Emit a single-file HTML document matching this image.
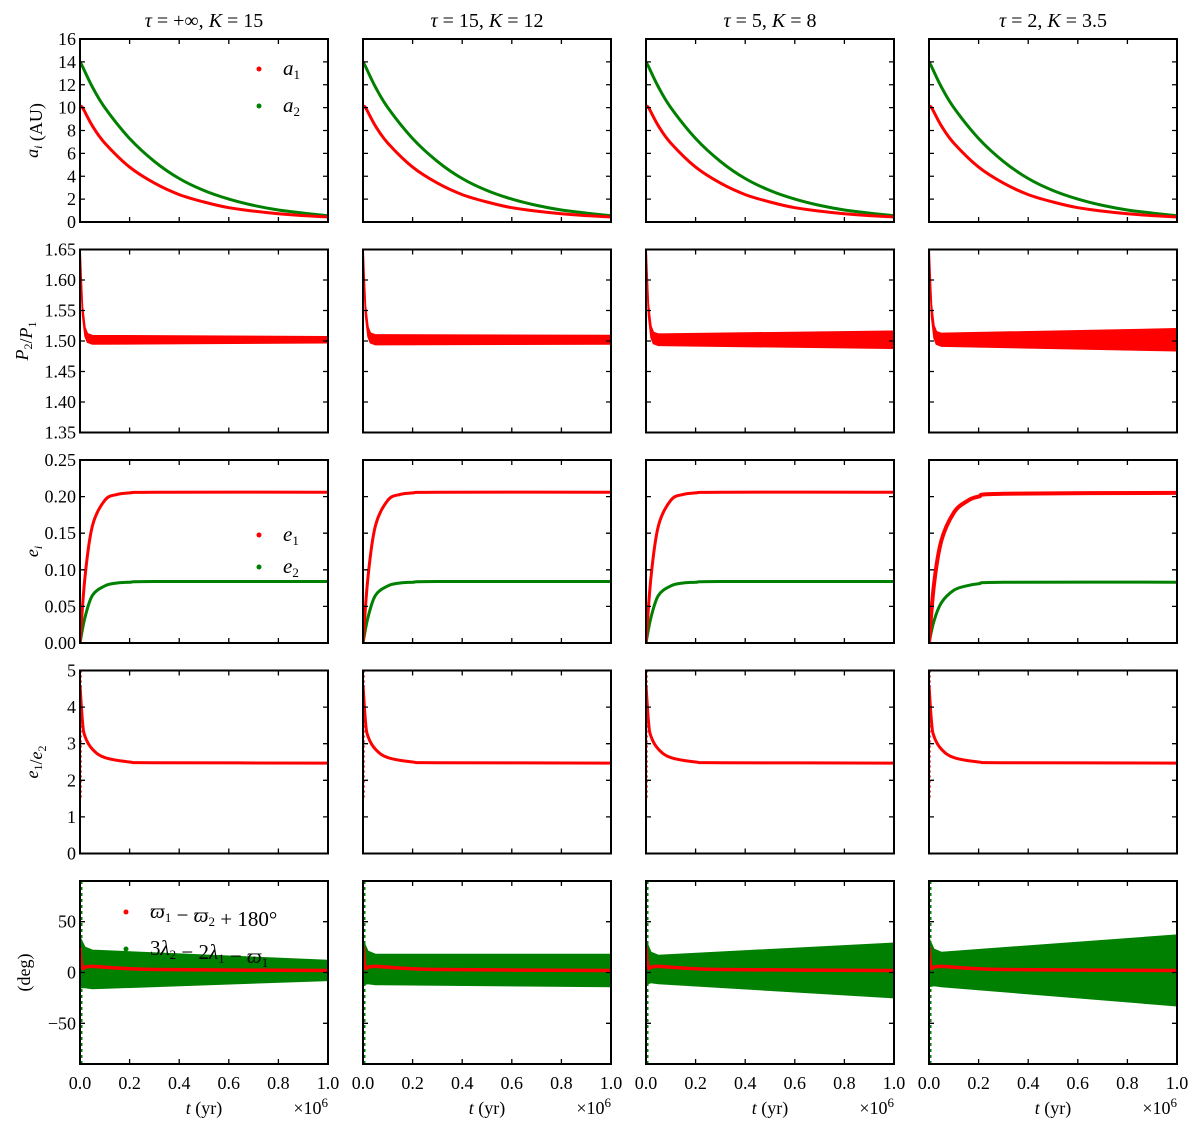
<!DOCTYPE html>
<html><head><meta charset="utf-8"><style>
body{margin:0;background:#fff}
svg text{font-family:"Liberation Serif",serif;fill:#000}
</style></head><body>
<svg id="chart" width="1200" height="1128" xmlns="http://www.w3.org/2000/svg"></svg>
<script>
const colTitles=['<tspan font-style="italic">τ</tspan> = +∞,  <tspan font-style="italic">K</tspan> = 15','<tspan font-style="italic">τ</tspan> = 15,  <tspan font-style="italic">K</tspan> = 12','<tspan font-style="italic">τ</tspan> = 5,  <tspan font-style="italic">K</tspan> = 8','<tspan font-style="italic">τ</tspan> = 2,  <tspan font-style="italic">K</tspan> = 3.5'];
const xTicks=[0,0.2,0.4,0.6,0.8,1.0];
const xTickLabels=["0.0","0.2","0.4","0.6","0.8","1.0"];
// row 1: semi-major axes
const tA=[0,0.01,0.05,0.1,0.2,0.3,0.4,0.5,0.6,0.7,0.8,0.9,1.0];
const a1=[10,10,8.4,6.9,4.8,3.4,2.4,1.75,1.25,0.95,0.72,0.56,0.45];
const a2=[14,13.6,11.8,10.0,7.3,5.3,3.8,2.75,2.0,1.45,1.05,0.78,0.55];
// row 2: period ratio
const tP=[0,0.005,0.01,0.02,0.03,0.05,1.0];
const pMean=[1.65,1.6,1.55,1.515,1.505,1.502,1.502];
const pHalfStart=[0.007,0.008,0.009,0.01];
const pHalfEnd=[0.005,0.007,0.014,0.018];
// row 3: eccentricities
const tE=[0,0.02,0.05,0.1,0.15,0.2,0.3,1.0];
const e1=[0,0.09,0.16,0.195,0.203,0.205,0.206,0.206];
const e2=[0,0.035,0.065,0.078,0.082,0.083,0.084,0.084];
const e1Slow=[0,0.08,0.14,0.178,0.193,0.2,0.204,0.205];
const e2Slow=[0,0.03,0.055,0.072,0.078,0.081,0.083,0.083];
// row 4: e1/e2
const tR=[0,0.01,0.02,0.05,0.1,0.2,0.3,1.0];
const ratio=[4.6,3.6,3.2,2.85,2.62,2.5,2.48,2.47];
// row 5: angles
const tG=[0,0.02,0.05,1.0];
const gCenter=[10,5,3,2];
const gHalfStart=[[25,20],[22,16],[22,15],[24,18]];
const gHalfEnd=[10,16,27,35];
const redAng=[[0,25],[0.01,5],[0.05,6],[0.3,3],[1,2]];

const svg=document.getElementById('chart');
const NS="http://www.w3.org/2000/svg";
function mk(tag,attrs,parent){const e=document.createElementNS(NS,tag);for(const k in attrs)e.setAttribute(k,attrs[k]);(parent||svg).appendChild(e);return e;}
const W=248,H=183;
const sub=s=>'<tspan font-size="12" dy="4">'+s+'</tspan><tspan dy="-4"></tspan>';
const rows=[
 {min:0,max:16,ticks:[0,2,4,6,8,10,12,14,16],fmt:v=>String(v),label:'<tspan font-style="italic">a</tspan>'+sub('<tspan font-style="italic">i</tspan>')+' (AU)'},
 {min:1.35,max:1.65,ticks:[1.35,1.40,1.45,1.50,1.55,1.60,1.65],fmt:v=>v.toFixed(2),label:'<tspan font-style="italic">P</tspan>'+sub('2')+'/<tspan font-style="italic">P</tspan>'+sub('1')},
 {min:0,max:0.25,ticks:[0,0.05,0.1,0.15,0.2,0.25],fmt:v=>v.toFixed(2),label:'<tspan font-style="italic">e</tspan>'+sub('<tspan font-style="italic">i</tspan>')},
 {min:0,max:5,ticks:[0,1,2,3,4,5],fmt:v=>String(v),label:'<tspan font-style="italic">e</tspan>'+sub('1')+'/<tspan font-style="italic">e</tspan>'+sub('2')},
 {min:-90,max:90,ticks:[-50,0,50],fmt:v=>v<0?"−50":String(v),label:'(deg)'}
];
function panel(r,c){
 const L=80+283*c,T=39+210.5*r;
 const R=rows[r];
 const sx=t=>L+t*W, sy=v=>T+H-(v-R.min)/(R.max-R.min)*H;
 return {L,T,sx,sy,R};
}
// smooth Catmull-Rom path through data points
function pathOf(xs,ys,sx,sy){
 const P=xs.map((x,i)=>[sx(x),sy(ys[i])]);
 let d='M'+P[0][0].toFixed(1)+' '+P[0][1].toFixed(1);
 for(let i=0;i<P.length-1;i++){
  const p0=P[Math.max(0,i-1)],p1=P[i],p2=P[i+1],p3=P[Math.min(P.length-1,i+2)];
  const c1=[p1[0]+(p2[0]-p0[0])/6,p1[1]+(p2[1]-p0[1])/6],c2=[p2[0]-(p3[0]-p1[0])/6,p2[1]-(p3[1]-p1[1])/6];
  d+=`C${c1[0].toFixed(1)} ${c1[1].toFixed(1)} ${c2[0].toFixed(1)} ${c2[1].toFixed(1)} ${p2[0].toFixed(1)} ${p2[1].toFixed(1)}`;
 }
 return d;
}
function bandOf(xs,lo,hi,sx,sy){let d=xs.map((x,i)=>(i?'L':'M')+sx(x).toFixed(1)+' '+sy(hi[i]).toFixed(1)).join(' ');for(let i=xs.length-1;i>=0;i--)d+='L'+sx(xs[i]).toFixed(1)+' '+sy(lo[i]).toFixed(1);return d+'Z';}
const RED="#ff0000",GRN="#008000";
for(let c=0;c<4;c++){
 const t=mk('text',{x:80+283*c+124,y:27,'text-anchor':'middle','font-size':20});
 
 
 t.innerHTML=colTitles[c];
 for(let r=0;r<5;r++){
  const p=panel(r,c),{sx,sy,L,T}=p;
  const g=mk('g',{});
  
  
  const clip=mk('clipPath',{id:'cp'+r+c},g);mk('rect',{x:L,y:T,width:W,height:H},clip);
  const d=mk('g',{'clip-path':'url(#cp'+r+c+')'},g);
  if(r===0){
   const l1=mk('path',{d:pathOf(tA,a2,sx,sy),stroke:GRN,'stroke-width':3,fill:'none'},d);
   
   const l2=mk('path',{d:pathOf(tA,a1,sx,sy),stroke:RED,'stroke-width':3,fill:'none'},d);
   
  } else if(r===1){
   const hw=tP.map(x=>pHalfStart[c]+(pHalfEnd[c]-pHalfStart[c])*x);
   const b=mk('path',{d:bandOf(tP,pMean.map((m,i)=>m-hw[i]),pMean.map((m,i)=>m+hw[i]),sx,sy),fill:RED,stroke:RED,'stroke-width':1.5},d);
   
  } else if(r===2){
   const E1=c===3?e1Slow:e1,E2=c===3?e2Slow:e2;
   const l1=mk('path',{d:pathOf(tE,E2,sx,sy),stroke:GRN,'stroke-width':3,fill:'none'},d);
   
   const l2=mk('path',{d:pathOf(tE,E1,sx,sy),stroke:RED,'stroke-width':c===3?4:3,fill:'none'},d);
   
  } else if(r===3){
   const l=mk('path',{d:pathOf(tR,ratio,sx,sy),stroke:RED,'stroke-width':3,fill:'none'},d);
   
   const s=mk('line',{x1:sx(0.004),x2:sx(0.004),y1:sy(5),y2:sy(1.5),stroke:RED,'stroke-width':1.5,'stroke-dasharray':'2 3'},d);
   
  } else {
   const hs=gHalfStart[c];
   const hw=[hs[0],hs[1],hs[1]-1,gHalfEnd[c]];
   const b=mk('path',{d:bandOf(tG,gCenter.map((m,i)=>m-hw[i]),gCenter.map((m,i)=>m+hw[i]),sx,sy),fill:GRN,stroke:GRN,'stroke-width':1},d);
   
   const s=mk('line',{x1:sx(0.006),x2:sx(0.006),y1:sy(90),y2:sy(-90),stroke:GRN,'stroke-width':2,'stroke-dasharray':'3 3'},d);
   
   const l=mk('path',{d:pathOf(redAng.map(q=>q[0]),redAng.map(q=>q[1]),sx,sy),stroke:RED,'stroke-width':3.5,fill:'none'},d);
   
  }
  let tk='';
  xTicks.forEach(x=>{const X=sx(x);tk+=`M${X} ${T+H}v-5M${X} ${T}v5`;});
  p.R.ticks.forEach(v=>{const Y=sy(v);tk+=`M${L} ${Y}h5M${L+W} ${Y}h-5`;});
  mk('path',{d:tk,stroke:'#000','stroke-width':1.3,fill:'none'},g);
  const fr=mk('rect',{x:L,y:T,width:W,height:H,fill:'none',stroke:'#000','stroke-width':2},g);
  
  if(c===0){
   p.R.ticks.forEach(v=>{const e=mk('text',{x:L-4,y:sy(v)+6,'text-anchor':'end','font-size':18},g);e.textContent=p.R.fmt(v);});
   const yl=mk('text',{transform:`translate(${r===1?28:r===4?30:38},${T+H/2}) rotate(-90)`,'text-anchor':'middle','font-size':18},g);
   
   yl.innerHTML=p.R.label;
  }
  if(r===4){
   xTicks.forEach((x,i)=>{const e=mk('text',{x:sx(x),y:T+H+25,'text-anchor':'middle','font-size':18},g);e.textContent=xTickLabels[i];});
   const xl=mk('text',{x:L+124,y:T+H+50,'text-anchor':'middle','font-size':18},g);
   
   xl.innerHTML='<tspan font-style="italic">t</tspan> (yr)';
   const xm=mk('text',{x:L+W,y:T+H+50,'text-anchor':'end','font-size':18},g);
   
   xm.innerHTML='×10<tspan font-size="13" dy="-7">6</tspan>';
  }
 }
}
function legend(items,x,y,gap,fs){
 items.forEach((it,i)=>{
  const g=mk('g',{});
  
  
  mk('circle',{cx:x,cy:y+i*gap,r:2.5,fill:it[0]},g);
  const t=mk('text',{x:x+24,y:y+i*gap+6,'font-size':fs,'font-style':'italic'},g);
  t.innerHTML=it[1];
 });
}
const sb=s=>'<tspan font-size="13" dy="4" font-style="normal">'+s+'</tspan><tspan dy="-4"></tspan>';
legend([[RED,'a'+sb('1')],[GRN,'a'+sb('2')]],259,69,37,21);
legend([[RED,'e'+sb('1')],[GRN,'e'+sb('2')]],259,535,32,21);
legend([[RED,'ϖ'+sb('1')+'<tspan font-style="normal"> − </tspan>ϖ'+sb('2')+'<tspan font-style="normal"> + 180°</tspan>'],[GRN,'<tspan font-style="normal">3</tspan>λ'+sb('2')+'<tspan font-style="normal"> − 2</tspan>λ'+sb('1')+'<tspan font-style="normal"> − </tspan>ϖ'+sb('1')]],126,912,37,21);
</script>
</body></html>
